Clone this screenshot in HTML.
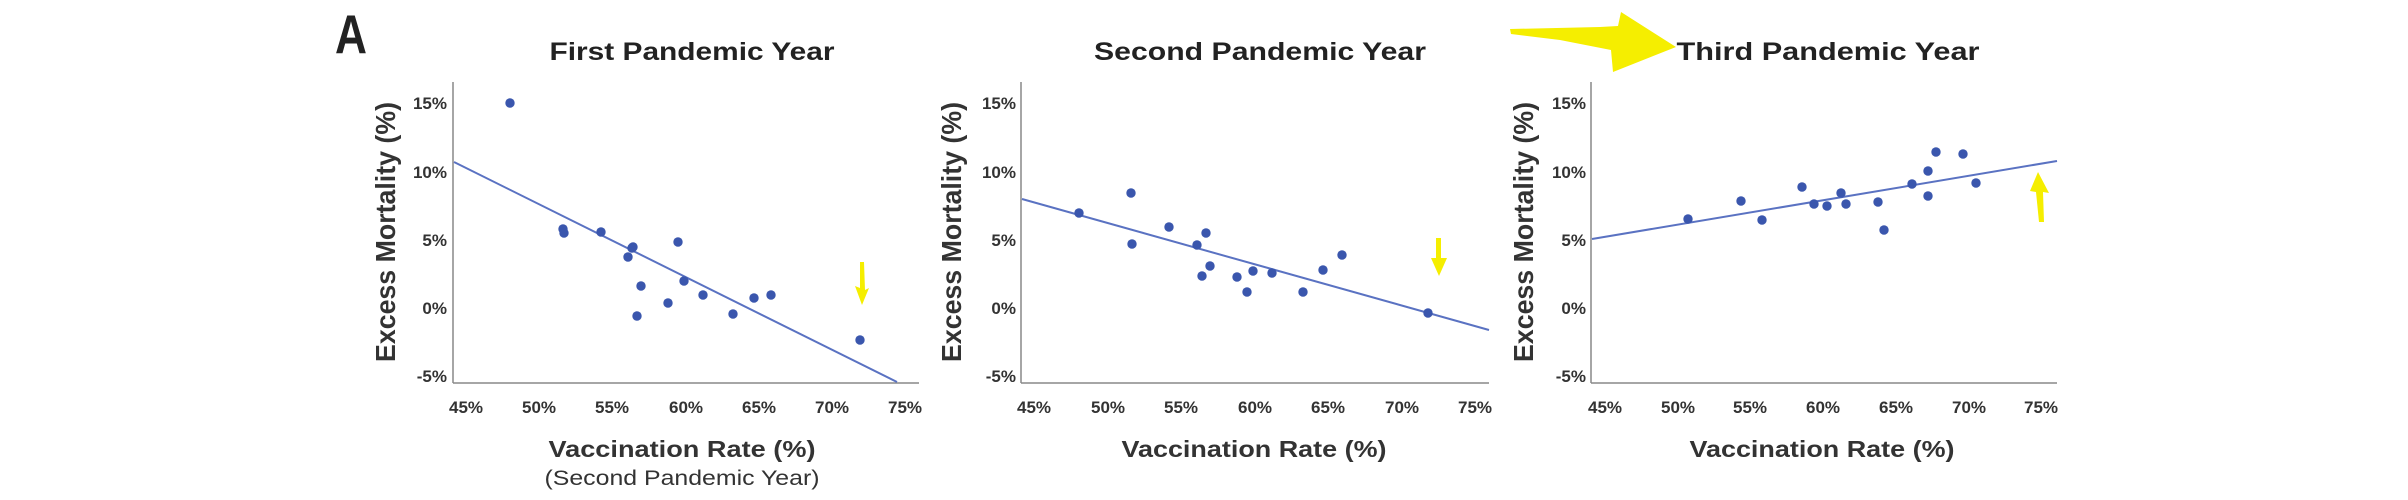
<!DOCTYPE html>
<html><head><meta charset="utf-8"><style>
html,body{margin:0;padding:0;background:#fff;}
svg{display:block;}
text{font-family:"Liberation Sans",sans-serif;fill:#222;}
.t{font-size:25px;font-weight:bold;}
.tk{font-size:17px;font-weight:bold;fill:#333;}
.ax{font-size:23px;font-weight:bold;fill:#333;}
.yt{font-size:28px;font-weight:bold;fill:#333;}
</style></head><body>
<svg width="2408" height="500" viewBox="0 0 2408 500" xmlns="http://www.w3.org/2000/svg">
<text x="335" y="53" style="font-size:55px;font-weight:bold" fill="#111" textLength="32" lengthAdjust="spacingAndGlyphs">A</text>

<!-- Panel 1 -->
<g>
<text class="t" x="692" y="60" text-anchor="middle" textLength="285" lengthAdjust="spacingAndGlyphs">First Pandemic Year</text>
<line x1="453" y1="82" x2="453" y2="383" stroke="#888" stroke-width="1.5"/>
<line x1="453" y1="383" x2="919" y2="383" stroke="#888" stroke-width="1.5"/>
<g text-anchor="end">
<text class="tk" x="447" y="109">15%</text><text class="tk" x="447" y="178">10%</text>
<text class="tk" x="447" y="246">5%</text><text class="tk" x="447" y="314">0%</text>
<text class="tk" x="447" y="382">-5%</text></g>
<g text-anchor="middle">
<text class="tk" x="466" y="413">45%</text><text class="tk" x="539" y="413">50%</text>
<text class="tk" x="612" y="413">55%</text><text class="tk" x="686" y="413">60%</text>
<text class="tk" x="759" y="413">65%</text><text class="tk" x="832" y="413">70%</text>
<text class="tk" x="905" y="413">75%</text></g>
<text class="yt" x="0" y="0" text-anchor="middle" transform="translate(395,232) rotate(-90)" textLength="260" lengthAdjust="spacingAndGlyphs">Excess Mortality (%)</text>
<text class="ax" x="682" y="457" text-anchor="middle" textLength="267" lengthAdjust="spacingAndGlyphs">Vaccination Rate (%)</text>
<text x="682" y="485" text-anchor="middle" style="font-size:21px;fill:#333" textLength="275" lengthAdjust="spacingAndGlyphs">(Second Pandemic Year)</text>
<line x1="454" y1="162" x2="897" y2="382" stroke="#5a72c2" stroke-width="2"/>
<g fill="#3a56ad">
<circle cx="510" cy="103" r="4.7"/><circle cx="563" cy="229" r="4.7"/><circle cx="564" cy="233" r="4.7"/>
<circle cx="601" cy="232" r="4.7"/><circle cx="632" cy="248" r="4.7"/><circle cx="628" cy="257" r="4.7"/>
<circle cx="633" cy="247" r="4.7"/><circle cx="641" cy="286" r="4.7"/><circle cx="637" cy="316" r="4.7"/>
<circle cx="678" cy="242" r="4.7"/><circle cx="684" cy="281" r="4.7"/><circle cx="668" cy="303" r="4.7"/>
<circle cx="703" cy="295" r="4.7"/><circle cx="733" cy="314" r="4.7"/><circle cx="754" cy="298" r="4.7"/>
<circle cx="771" cy="295" r="4.7"/><circle cx="860" cy="340" r="4.7"/></g>
<polygon points="860,262 864,262 865,290 869,288 862,305 855,286 860,288" fill="#f5ee00"/>
</g>

<!-- Panel 2 -->
<g>
<text class="t" x="1260" y="60" text-anchor="middle" textLength="332" lengthAdjust="spacingAndGlyphs">Second Pandemic Year</text>
<line x1="1021" y1="82" x2="1021" y2="383" stroke="#888" stroke-width="1.5"/>
<line x1="1021" y1="383" x2="1489" y2="383" stroke="#888" stroke-width="1.5"/>
<g text-anchor="end">
<text class="tk" x="1016" y="109">15%</text><text class="tk" x="1016" y="178">10%</text>
<text class="tk" x="1016" y="246">5%</text><text class="tk" x="1016" y="314">0%</text>
<text class="tk" x="1016" y="382">-5%</text></g>
<g text-anchor="middle">
<text class="tk" x="1034" y="413">45%</text><text class="tk" x="1108" y="413">50%</text>
<text class="tk" x="1181" y="413">55%</text><text class="tk" x="1255" y="413">60%</text>
<text class="tk" x="1328" y="413">65%</text><text class="tk" x="1402" y="413">70%</text>
<text class="tk" x="1475" y="413">75%</text></g>
<text class="yt" x="0" y="0" text-anchor="middle" transform="translate(961,232) rotate(-90)" textLength="260" lengthAdjust="spacingAndGlyphs">Excess Mortality (%)</text>
<text class="ax" x="1254" y="457" text-anchor="middle" textLength="265" lengthAdjust="spacingAndGlyphs">Vaccination Rate (%)</text>
<line x1="1022" y1="199" x2="1489" y2="330" stroke="#5a72c2" stroke-width="2"/>
<g fill="#3a56ad">
<circle cx="1079" cy="213" r="4.7"/><circle cx="1131" cy="193" r="4.7"/><circle cx="1132" cy="244" r="4.7"/>
<circle cx="1169" cy="227" r="4.7"/><circle cx="1206" cy="233" r="4.7"/><circle cx="1197" cy="245" r="4.7"/>
<circle cx="1210" cy="266" r="4.7"/><circle cx="1202" cy="276" r="4.7"/><circle cx="1237" cy="277" r="4.7"/>
<circle cx="1247" cy="292" r="4.7"/><circle cx="1253" cy="271" r="4.7"/><circle cx="1272" cy="273" r="4.7"/>
<circle cx="1303" cy="292" r="4.7"/><circle cx="1323" cy="270" r="4.7"/><circle cx="1342" cy="255" r="4.7"/>
<circle cx="1428" cy="313" r="4.7"/></g>
<polygon points="1436,238 1441,238 1441,258 1447,258 1439,276 1431,258 1436,258" fill="#f5ee00"/>
</g>

<!-- Panel 3 -->
<g>
<polygon points="1510,29 1600,27 1618,26 1621,12 1676,47 1613,72 1611,50 1560,40 1511,34" fill="#f5ee00"/>
<text class="t" x="1828" y="60" text-anchor="middle" textLength="303" lengthAdjust="spacingAndGlyphs">Third Pandemic Year</text>
<line x1="1591" y1="82" x2="1591" y2="383" stroke="#888" stroke-width="1.5"/>
<line x1="1591" y1="383" x2="2057" y2="383" stroke="#888" stroke-width="1.5"/>
<g text-anchor="end">
<text class="tk" x="1586" y="109">15%</text><text class="tk" x="1586" y="178">10%</text>
<text class="tk" x="1586" y="246">5%</text><text class="tk" x="1586" y="314">0%</text>
<text class="tk" x="1586" y="382">-5%</text></g>
<g text-anchor="middle">
<text class="tk" x="1605" y="413">45%</text><text class="tk" x="1678" y="413">50%</text>
<text class="tk" x="1750" y="413">55%</text><text class="tk" x="1823" y="413">60%</text>
<text class="tk" x="1896" y="413">65%</text><text class="tk" x="1969" y="413">70%</text>
<text class="tk" x="2041" y="413">75%</text></g>
<text class="yt" x="0" y="0" text-anchor="middle" transform="translate(1533,232) rotate(-90)" textLength="260" lengthAdjust="spacingAndGlyphs">Excess Mortality (%)</text>
<text class="ax" x="1822" y="457" text-anchor="middle" textLength="265" lengthAdjust="spacingAndGlyphs">Vaccination Rate (%)</text>
<line x1="1592" y1="239" x2="2057" y2="161" stroke="#5a72c2" stroke-width="2"/>
<g fill="#3a56ad">
<circle cx="1688" cy="219" r="4.7"/><circle cx="1741" cy="201" r="4.7"/><circle cx="1762" cy="220" r="4.7"/>
<circle cx="1802" cy="187" r="4.7"/><circle cx="1814" cy="204" r="4.7"/><circle cx="1827" cy="206" r="4.7"/>
<circle cx="1841" cy="193" r="4.7"/><circle cx="1846" cy="204" r="4.7"/><circle cx="1878" cy="202" r="4.7"/>
<circle cx="1884" cy="230" r="4.7"/><circle cx="1912" cy="184" r="4.7"/><circle cx="1928" cy="171" r="4.7"/>
<circle cx="1928" cy="196" r="4.7"/><circle cx="1936" cy="152" r="4.7"/><circle cx="1963" cy="154" r="4.7"/>
<circle cx="1976" cy="183" r="4.7"/></g>
<polygon points="2039,222 2044,222 2043,192 2049,193 2038,172 2030,191 2036,192" fill="#f5ee00"/>
</g>
</svg>
</body></html>
